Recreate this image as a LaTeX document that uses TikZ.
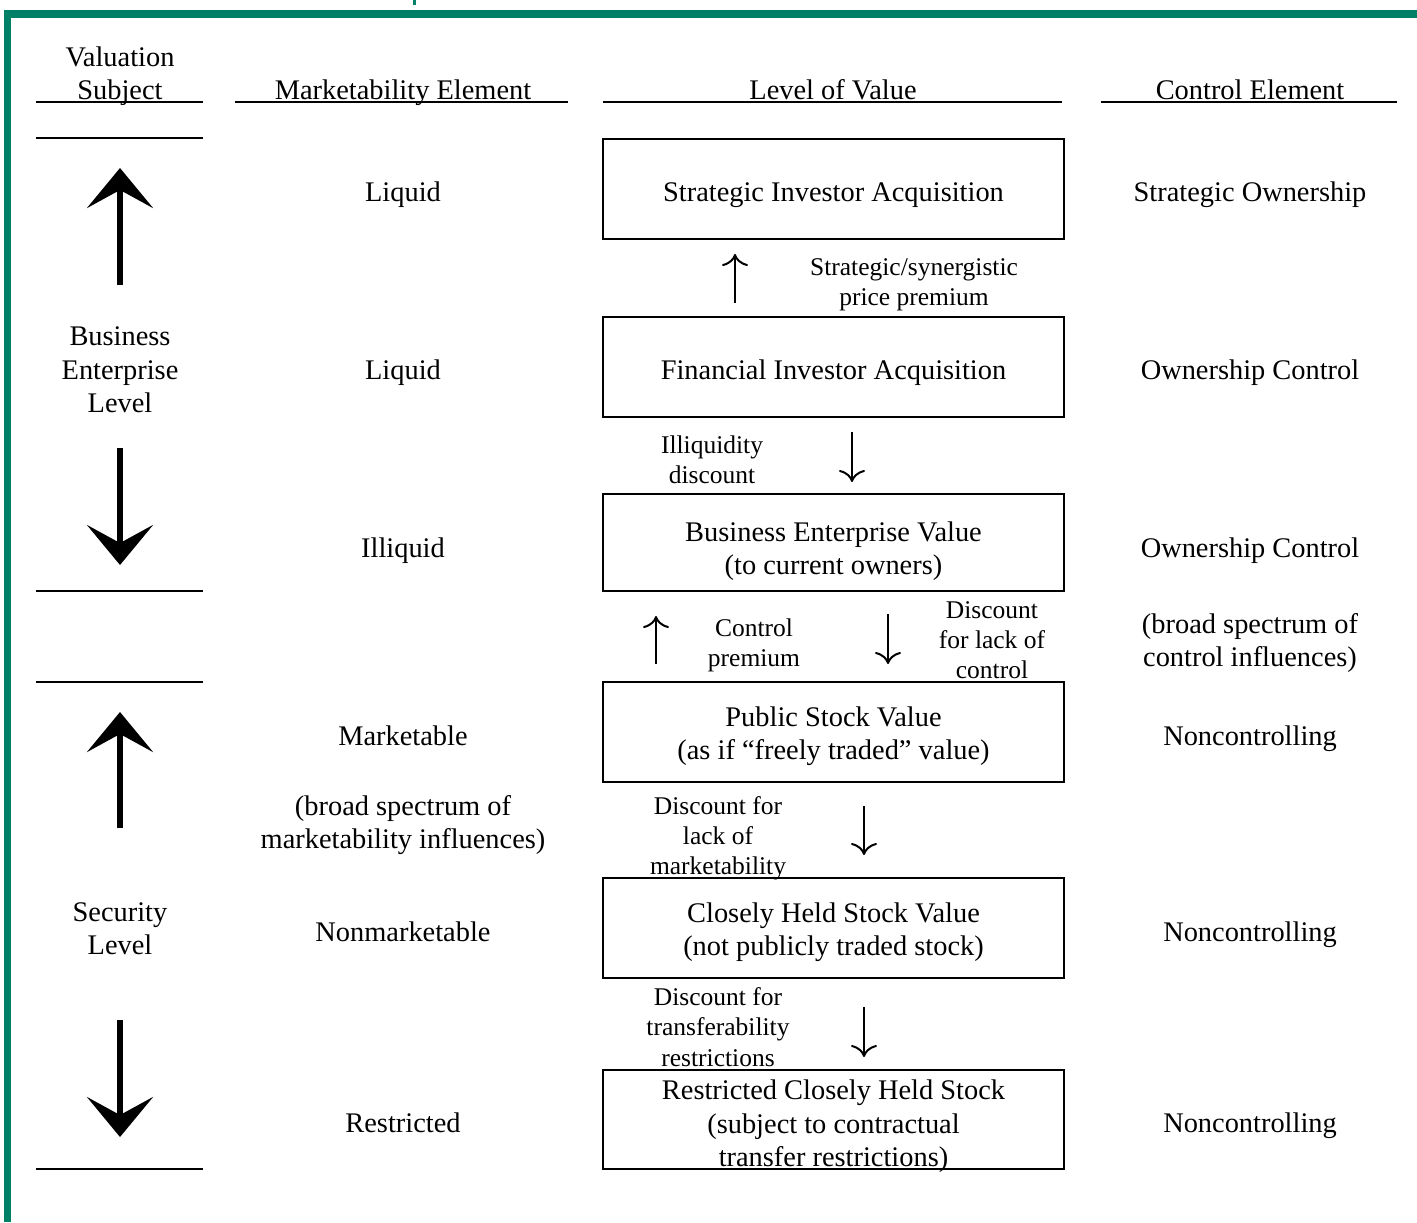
\documentclass[tikz,border=0pt]{standalone}
\usepackage{fontspec}
\setmainfont{Liberation Serif}
\usepackage{xcolor}
\usetikzlibrary{arrows.meta}
\definecolor{frameGreen}{RGB}{0,128,102}

\begin{document}
\begin{tikzpicture}[x=0.5pt, y=-0.5pt,
    every node/.style={font=\fontsize{14.2}{16.7}\selectfont, align=center, inner sep=0pt},
    one/.style={text height=0.7em, text depth=0.22em},
    lbl/.style={font=\fontsize{12.75}{15.1}\selectfont},
    valbox/.style={draw, line width=1pt, minimum width=230.5pt, minimum height=50pt},
    rule/.style={line width=1pt},
    bigarrow/.style={line width=2.6pt, -{Stealth[length=20pt, width=33pt, inset=9pt]}},
    smallarrow/.style={line width=1pt, -{Computer Modern Rightarrow[length=6pt, width=13pt]}}]
    \useasboundingbox (0,0) rectangle (1417,1222);
    \fill[frameGreen] (4,10) rectangle (1417,18);
    \fill[frameGreen] (4,10) rectangle (11,1222);
    \fill[frameGreen] (413,0) rectangle (416,5);
    % headings
    \node (hsubj) at (120,76) {Valuation\\Subject};
    \node[one] (hmkt) at (403,95) {Marketability Element};
    \node[one] (hlev) at (833,95) {Level of Value};
    \node[one] (hctl) at (1250,95) {Control Element};
    \draw[rule] (36,102) -- (203,102);
    \draw[rule] (235,102) -- (568,102);
    \draw[rule] (603,102) -- (1062,102);
    \draw[rule] (1101,102) -- (1397,102);
    \foreach \y in {138,591,682,1169}
        \draw[rule] (36,\y) -- (203,\y);
    % valuation subject
    \node (bel) at (120,370) {Business\\Enterprise\\Level};
    \node (sl) at (120,929) {Security\\Level};
    \coordinate (bu1) at (120,285); \coordinate (bu2) at (120,168);
    \coordinate (bd1) at (120,448); \coordinate (bd2) at (120,565);
    \coordinate (su1) at (120,828); \coordinate (su2) at (120,712);
    \coordinate (sd1) at (120,1020); \coordinate (sd2) at (120,1137);
    \draw[bigarrow] (bu1) -- (bu2);
    \draw[bigarrow] (bd1) -- (bd2);
    \draw[bigarrow] (su1) -- (su2);
    \draw[bigarrow] (sd1) -- (sd2);
    % marketability element
    \node[one] (m1) at (403,197) {Liquid};
    \node[one] (m2) at (403,375) {Liquid};
    \node[one] (m3) at (403,553) {Illiquid};
    \node[one] (m4) at (403,741) {Marketable};
    \node (m5) at (403,825) {(broad spectrum of\\marketability influences)};
    \node[one] (m6) at (403,937) {Nonmarketable};
    \node[one] (m7) at (403,1128) {Restricted};
    % level of value
    \node[valbox] (sia) at (833.5,188.5) {};
    \node[valbox] (fia) at (833.5,367) {};
    \node[valbox, minimum height=48.5pt] (bev) at (833.5,542.5) {};
    \node[valbox] (psv) at (833.5,732) {};
    \node[valbox] (chs) at (833.5,928) {};
    \node[valbox, minimum height=49.5pt] (rch) at (833.5,1119.5) {};
    \node[one] (siaT) at (833.5,197) {Strategic Investor Acquisition};
    \node[one] (fiaT) at (833.5,375) {Financial Investor Acquisition};
    \node (bevT) at (833.5,551) {Business Enterprise Value\\(to current owners)};
    \node (psvT) at (833.5,736) {Public Stock Value\\(as if ``freely traded'' value)};
    \node (chsT) at (833.5,932) {Closely Held Stock Value\\(not publicly traded stock)};
    \node (rchT) at (833.5,1126.5) {Restricted Closely Held Stock\\(subject to contractual\\transfer restrictions)};
    \node[lbl] (spp) at (914,285) {Strategic/synergistic\\price premium};
    \node[lbl] (ild) at (712,460) {Illiquidity\\discount};
    \node[lbl] (cpr) at (754,645) {Control\\premium};
    \node[lbl] (dlc) at (992,640) {Discount\\for lack of\\control};
    \node[lbl] (dlm) at (718,838) {Discount for\\lack of\\marketability};
    \node[lbl] (dtr) at (718,1027) {Discount for\\transferability\\restrictions};
    \coordinate (a1) at (735,303); \coordinate (a2) at (735,254);
    \coordinate (b1) at (852,432); \coordinate (b2) at (852,482);
    \coordinate (c1) at (656,664); \coordinate (c2) at (656,616);
    \coordinate (d1) at (888,614); \coordinate (d2) at (888,664);
    \coordinate (e1) at (864,806); \coordinate (e2) at (864,855);
    \coordinate (f1) at (864,1007); \coordinate (f2) at (864,1057);
    \draw[smallarrow] (a1) -- (a2);
    \draw[smallarrow] (b1) -- (b2);
    \draw[smallarrow] (c1) -- (c2);
    \draw[smallarrow] (d1) -- (d2);
    \draw[smallarrow] (e1) -- (e2);
    \draw[smallarrow] (f1) -- (f2);
    % control element
    \node[one] (c1t) at (1250,197) {Strategic Ownership};
    \node[one] (c2t) at (1250,375) {Ownership Control};
    \node[one] (c3t) at (1250,553) {Ownership Control};
    \node (c4t) at (1250,643) {(broad spectrum of\\control influences)};
    \foreach \y/\n in {741/c5t,937/c6t,1128/c7t}
        \node[one] (\n) at (1250,\y) {Noncontrolling};
\end{tikzpicture}
\end{document}
